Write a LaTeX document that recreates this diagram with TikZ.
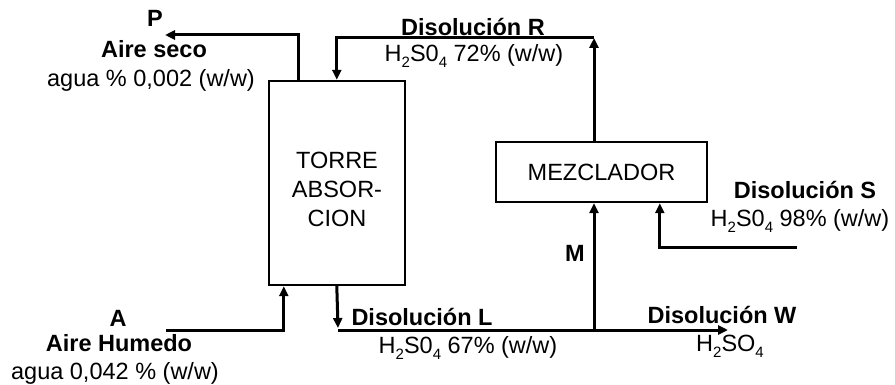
\documentclass[tikz,border=0pt]{standalone}
\usepackage{fontspec}
\setmainfont{Liberation Sans}
\usetikzlibrary{arrows.meta,calc}
\newcommand{\idx}[1]{\raisebox{-0.5ex}{\fontsize{15}{15}\selectfont #1}}

\begin{document}
\begin{tikzpicture}[
  x=1pt,
  y=-1pt,
  font=\fontsize{23.5}{29}\selectfont,
  unit/.style={draw, line width=2.4pt, inner sep=0pt},
  pipe/.style={line width=3pt},
  flow/.style={line width=3pt, -{Triangle[length=10pt,width=9pt]}},
  stream/.style={font=\fontsize{23.5}{29}\selectfont\bfseries}
]
  \useasboundingbox (0,0) rectangle (895,385);

  % equipos
  \node[unit, minimum width=136pt, minimum height=204pt] (torre) at (337,183) {};
  \node[align=center] (torretxt) at (337,189) {TORRE\\ABSOR-\\CION};
  \node[unit, minimum width=211pt, minimum height=60pt] (mezclador) at (601.5,172) {MEZCLADOR};

  % puntos libres
  \coordinate (pEnd) at (165,35);
  \coordinate (rTop) at (594,38);
  \coordinate (aStart) at (166,330);
  \coordinate (lCorner) at (338,330);
  \coordinate (mJoin) at (594,330);
  \coordinate (wEnd) at (728,330);
  \coordinate (sStart) at (797,247);

  % corrientes
  \draw[flow] ([xshift=31pt]torre.north west) |- (pEnd);
  \draw[flow] (mezclador.north -| rTop) -- (rTop);
  \draw[flow] (rTop) -| ([xshift=69pt]torre.north west);
  \draw[flow] (aStart) -| ([xshift=16pt]torre.south west);
  \draw[flow] ([xshift=69pt]torre.south west) -- ([yshift=2pt]lCorner);
  \draw[flow] (lCorner) -- (wEnd);
  \draw[flow] (mJoin) -- (mezclador.south -| mJoin);
  \draw[flow] (sStart) -| ([xshift=165pt]mezclador.south west);

  % etiquetas
  \node[stream] (pLbl) at (155,18) {P};
  \node[stream] (pName) at (154,49) {Aire seco};
  \node (pComp) at (151,80) {agua \% 0,002 (w/w)};

  \node[stream] (rName) at (473,27) {Disolución R};
  \node (rComp) at (474,56) {H\idx{2}S0\idx{4} 72\% (w/w)};

  \node[stream] (sName) at (805,190) {Disolución S};
  \node (sComp) at (800,221) {H\idx{2}S0\idx{4} 98\% (w/w)};

  \node[stream] (mLbl) at (575,253) {M};

  \node[stream] (aLbl) at (118,318) {A};
  \node[stream] (aName) at (119,343) {Aire Humedo};
  \node (aComp) at (115,373) {agua 0,042 \% (w/w)};

  \node[stream] (lName) at (422,317) {Disolución L};
  \node (lComp) at (468,348) {H\idx{2}S0\idx{4} 67\% (w/w)};

  \node[stream] (wName) at (722,315) {Disolución W};
  \node (wComp) at (730,346) {H\idx{2}SO\idx{4}};
\end{tikzpicture}
\end{document}
